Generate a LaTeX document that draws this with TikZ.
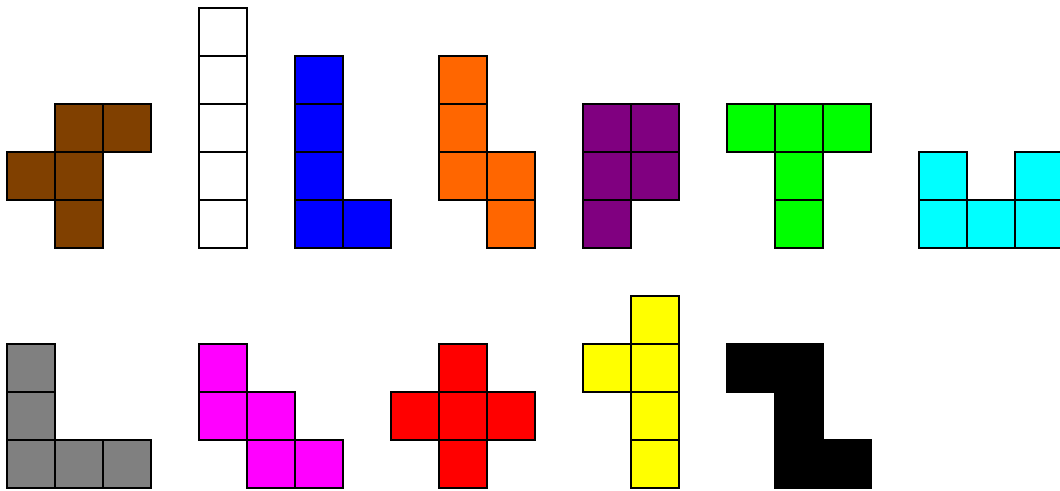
\documentclass[tikz,border=0pt]{standalone}
\usepackage{tikz}

\definecolor{fbrown}{RGB}{128,64,0}
\definecolor{norange}{RGB}{255,102,0}
\definecolor{ppurple}{RGB}{128,0,128}
\definecolor{tgreen}{RGB}{0,255,0}
\definecolor{ucyan}{RGB}{0,255,255}
\definecolor{vgray}{RGB}{128,128,128}
\definecolor{wmagenta}{RGB}{255,0,255}
\definecolor{yyellow}{RGB}{255,255,0}

\begin{document}
\begin{tikzpicture}[x=1cm, y=1cm, cell/.style={draw=black, line width=0.8pt}]
				\useasboundingbox (-0.146,-0.0625) rectangle (21.9375,10.1667);
				% first row
				\foreach \x/\y in {1/7, 2/7, 0/6, 1/6, 1/5}
					\draw [cell, fill=fbrown] (\x,\y) rectangle ++(1,1);
				\foreach \y in {5,...,9}
					\draw [cell, fill=white] (4,\y) rectangle ++(1,1);
				\foreach \x/\y in {6/8, 6/7, 6/6, 6/5, 7/5}
					\draw [cell, fill=blue] (\x,\y) rectangle ++(1,1);
				\foreach \x/\y in {9/8, 9/7, 9/6, 10/6, 10/5}
					\draw [cell, fill=norange] (\x,\y) rectangle ++(1,1);
				\foreach \x/\y in {12/7, 13/7, 12/6, 13/6, 12/5}
					\draw [cell, fill=ppurple] (\x,\y) rectangle ++(1,1);
				\foreach \x/\y in {15/7, 16/7, 17/7, 16/6, 16/5}
					\draw [cell, fill=tgreen] (\x,\y) rectangle ++(1,1);
				\foreach \x/\y in {19/6, 21/6, 19/5, 20/5, 21/5}
					\draw [cell, fill=ucyan] (\x,\y) rectangle ++(1,1);
				% second row
				\foreach \x/\y in {0/2, 0/1, 0/0, 1/0, 2/0}
					\draw [cell, fill=vgray] (\x,\y) rectangle ++(1,1);
				\foreach \x/\y in {4/2, 4/1, 5/1, 5/0, 6/0}
					\draw [cell, fill=wmagenta] (\x,\y) rectangle ++(1,1);
				\foreach \x/\y in {9/2, 8/1, 9/1, 10/1, 9/0}
					\draw [cell, fill=red] (\x,\y) rectangle ++(1,1);
				\foreach \x/\y in {13/3, 12/2, 13/2, 13/1, 13/0}
					\draw [cell, fill=yyellow] (\x,\y) rectangle ++(1,1);
				\foreach \x/\y in {15/2, 16/2, 16/1, 16/0, 17/0}
					\draw [cell, fill=black] (\x,\y) rectangle ++(1,1);
			\end{tikzpicture}
\end{document}
